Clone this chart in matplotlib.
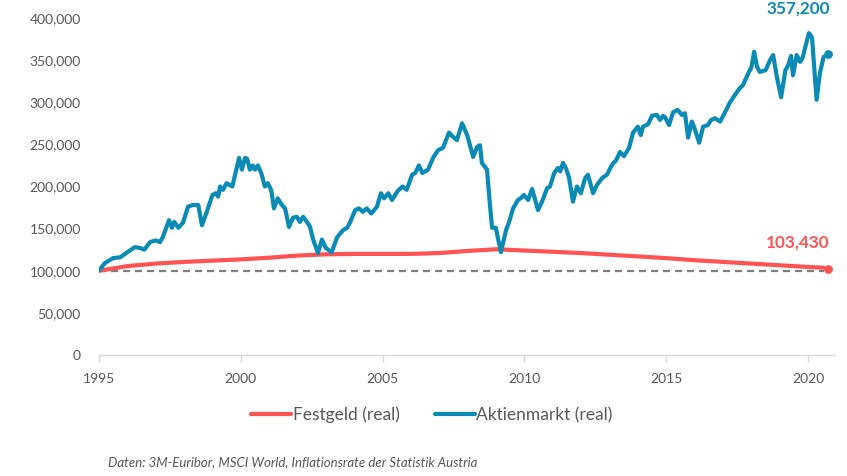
import numpy as np
import matplotlib
matplotlib.use('Agg')
import matplotlib.pyplot as plt
import matplotlib.ticker as ticker

plt.rcParams['font.family'] = ['Lato', 'DejaVu Sans']

# Aktienmarkt (real), Wert in 1000 EUR
aktien_jahr = [1995.00, 1995.20, 1995.35, 1995.50, 1995.75, 1996.00, 1996.27, 1996.45, 1996.60, 1996.80,
               1997.00, 1997.15, 1997.25, 1997.47, 1997.57, 1997.65, 1997.80, 1997.96, 1998.14, 1998.30,
               1998.50, 1998.63, 1998.80, 1999.00, 1999.12, 1999.20, 1999.27, 1999.37, 1999.50, 1999.70,
               1999.80, 1999.94, 2000.04, 2000.15, 2000.22, 2000.32, 2000.42, 2000.50, 2000.60, 2000.72,
               2000.85, 2000.95, 2001.07, 2001.17, 2001.30, 2001.45, 2001.56, 2001.70, 2001.84, 2001.98,
               2002.08, 2002.20, 2002.33, 2002.44, 2002.55, 2002.72, 2002.86, 2003.00, 2003.20, 2003.40,
               2003.60, 2003.75, 2003.86, 2004.03, 2004.17, 2004.30, 2004.44, 2004.60, 2004.80, 2004.94,
               2005.05, 2005.20, 2005.33, 2005.54, 2005.70, 2005.85, 2006.04, 2006.15, 2006.28, 2006.40,
               2006.60, 2006.78, 2006.95, 2007.13, 2007.34, 2007.48, 2007.62, 2007.80, 2007.98, 2008.08,
               2008.19, 2008.33, 2008.43, 2008.50, 2008.68, 2008.79, 2008.86, 2008.99, 2009.17, 2009.35,
               2009.46, 2009.60, 2009.77, 2009.87, 2009.98, 2010.13, 2010.27, 2010.48, 2010.62, 2010.80,
               2010.90, 2011.05, 2011.18, 2011.26, 2011.36, 2011.47, 2011.57, 2011.71, 2011.85, 2011.99,
               2012.14, 2012.24, 2012.42, 2012.56, 2012.74, 2012.91, 2013.09, 2013.23, 2013.37, 2013.51,
               2013.69, 2013.83, 2014.00, 2014.10, 2014.18, 2014.36, 2014.50, 2014.67, 2014.78, 2014.89,
               2014.96, 2015.10, 2015.24, 2015.40, 2015.55, 2015.66, 2015.77, 2015.90, 2015.98, 2016.16,
               2016.30, 2016.47, 2016.58, 2016.72, 2016.90, 2017.07, 2017.25, 2017.43, 2017.60, 2017.70,
               2017.90, 2018.00, 2018.10, 2018.20, 2018.30, 2018.50, 2018.66, 2018.77, 2018.90, 2019.05,
               2019.20, 2019.30, 2019.40, 2019.47, 2019.60, 2019.72, 2019.80, 2020.03, 2020.14, 2020.30,
               2020.42, 2020.55]
aktien_wert = [100, 109, 112, 115, 116, 122, 128, 127, 125, 134,
               136, 134, 140, 160, 151, 158, 151, 157, 176, 178,
               178, 154, 170, 190, 192, 188, 200, 196, 204, 200,
               214, 234, 220, 234, 233, 220, 225, 220, 225, 216,
               200, 204, 196, 174, 186, 178, 174, 152, 163, 164,
               158, 164, 158, 152, 137, 121, 137, 127, 122, 140,
               148, 151, 158, 172, 174, 170, 174, 168, 176, 192,
               186, 192, 184, 195, 200, 196, 214, 216, 225, 216,
               220, 234, 243, 246, 264, 259, 255, 275, 261, 249,
               235, 247, 249, 228, 220, 176, 151, 151, 122, 148,
               158, 174, 184, 186, 190, 184, 197, 172, 182, 198,
               200, 216, 222, 218, 228, 221, 211, 182, 200, 192,
               210, 214, 192, 202, 210, 214, 226, 231, 241, 236,
               246, 264, 271, 261, 271, 274, 284, 285, 279, 284,
               282, 273, 288, 291, 285, 287, 258, 277, 271, 252,
               271, 273, 279, 281, 277, 288, 300, 309, 317, 320,
               335, 341, 360, 342, 336, 338, 350, 356, 330, 306,
               338, 344, 355, 332, 356, 348, 352, 382, 377, 303,
               335, 354]

# Festgeld (real), Wert in 1000 EUR
festgeld_jahr = [1995.0, 1996.0, 1997.0, 1998.0, 1999.0, 2000.0, 2001.0, 2002.0, 2003.0, 2004.0,
                 2005.0, 2006.0, 2007.0, 2008.0, 2009.0, 2010.0, 2011.0, 2012.0, 2013.0, 2014.0,
                 2015.0, 2016.0, 2017.0, 2018.0, 2019.0, 2020.0, 2020.55]
festgeld_wert = [100.0, 105.5, 108.5, 110.5, 112.0, 113.5, 115.5, 118.0, 119.5, 120.0,
                 120.0, 120.0, 121.0, 123.5, 125.5, 124.0, 122.5, 121.0, 119.0, 117.0,
                 115.0, 112.5, 110.5, 108.5, 106.5, 104.5, 103.6]

end_jahr = 2020.72
aktien_end = 357200
festgeld_end = 103430
start_wert = 100000

blau = '#0A8BB6'
rot = '#FF5252'
grau = '#595959'

fig = plt.figure(figsize=(8.47, 4.76), dpi=100)
ax = fig.add_axes([99/847, 1-355/476, (835-99)/847, (355-18)/476])

ax.plot([1995, festgeld_jahr[-1]], [start_wert, start_wert], ls=(0, (3.2, 2.2)), c='#7F7F7F', lw=1.6, zorder=1)
ax.plot(festgeld_jahr, np.array(festgeld_wert)*1000, color=rot, lw=3.0, label='Festgeld (real)', zorder=2,
        solid_capstyle='round')
ax.plot(aktien_jahr, np.array(aktien_wert)*1000, color=blau, lw=3.0, label='Aktienmarkt (real)', zorder=3,
        solid_joinstyle='round', solid_capstyle='round')
ax.scatter([end_jahr], [aktien_end], s=28, color=blau, zorder=4, clip_on=False)
ax.scatter([end_jahr], [festgeld_end - 1500], s=28, color=rot, zorder=4, clip_on=False)

ax.text(end_jahr + 0.05, aktien_end + 53500, f'{aktien_end:,}', color=blau, fontsize=12.3, fontweight='bold',
        ha='right', va='center', clip_on=False)
ax.text(end_jahr + 0.05, festgeld_end + 30500, f'{festgeld_end:,}', color=rot, fontsize=12.3, fontweight='bold',
        ha='right', va='center', clip_on=False)

ax.set_xlim(1995, 2020.95)
ax.set_ylim(0, 400000)
ax.set_xticks([1995, 2000, 2005, 2010, 2015, 2020])
ax.yaxis.set_major_locator(ticker.MultipleLocator(50000))
ax.yaxis.set_major_formatter(ticker.FuncFormatter(lambda v, p: f'{int(v):,}'))
for s in ['top', 'right', 'left']:
    ax.spines[s].set_visible(False)
ax.spines['bottom'].set_color('#D9D9D9')
ax.spines['bottom'].set_linewidth(1.0)
ax.tick_params(axis='x', colors='#D9D9D9', length=5, width=1.0, labelcolor=grau, labelsize=10, pad=8)
ax.tick_params(axis='y', length=0, labelcolor=grau, labelsize=10, pad=13)

fig.legend(loc='center', bbox_to_anchor=(432/847, 1-415/476), ncol=2, frameon=False, fontsize=12.5,
           handlelength=2.3, handletextpad=0.1, columnspacing=2.0, labelcolor=grau)
fig.text(108/847, 1-462/476, 'Daten: 3M-Euribor, MSCI World, Inflationsrate der Statistik Austria',
         fontsize=9.5, style='italic', color=grau, va='center')

fig.savefig('out.png', dpi=100, facecolor='white')
plt.close(fig)
